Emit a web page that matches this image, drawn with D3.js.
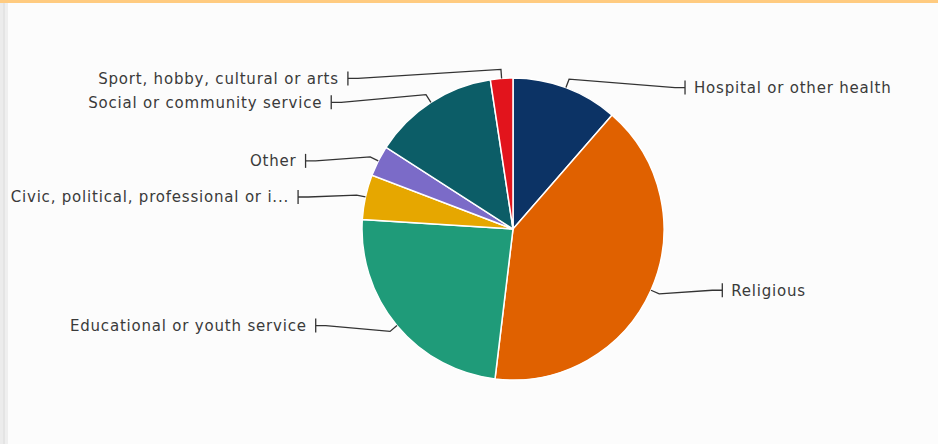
<!DOCTYPE html>
<html>
<head>
<meta charset="utf-8">
<script src="https://cdn.jsdelivr.net/npm/d3@7"></script>
<style>
  html, body { margin: 0; padding: 0; background: #fcfcfc; }
  svg { display: block; }
</style>
</head>
<body>
<svg id="chart" width="938" height="444"></svg>
<script>
"use strict";

// slices, clockwise from 12 o'clock
const categories = [
    'Hospital or other health',
    'Religious',
    'Educational or youth service',
    'Civic, political, professional or i...',
    'Other',
    'Social or community service',
    'Sport, hobby, cultural or arts'
];
const values = [11.4, 40.5, 24.1, 4.8, 3.3, 13.5, 2.4];
const colors = ['#0c3365', '#e06100', '#1f9b79', '#e6a700', '#7b6bc8', '#0c5d67', '#e2141c'];

const width = 938;
const height = 444;
const cx = 513;
const cy = 229;
const radius = 151;

const svg = d3.select('#chart');

// page chrome: orange strip on top, grey edge on the left
svg.append('rect').attr('width', width).attr('height', height).attr('fill', '#fcfcfc');
svg.append('rect').attr('width', width).attr('height', 3).attr('fill', '#ffcb80');
[['#ececec', 0, 3], ['#e4e4e4', 3, 2], ['#efefef', 5, 3]].forEach(function (s) {
    svg.append('rect').attr('x', s[1]).attr('y', 3).attr('width', s[2]).attr('height', height - 3).attr('fill', s[0]);
});

const data = categories.map(function (c, i) {
    return { label: c, value: values[i], color: colors[i] };
});

const pie = d3.pie().sort(null).value(function (d) { return d.value; });
const arc = d3.arc().innerRadius(0).outerRadius(radius);
const arcs = pie(data);

const g = svg.append('g').attr('transform', 'translate(' + cx + ',' + cy + ')');

g.selectAll('.slice')
    .data(arcs)
    .enter()
    .append('path')
    .classed('slice', true)
    .attr('d', arc)
    .attr('fill', function (d) { return d.data.color; })
    .attr('stroke', '#ffffff')
    .attr('stroke-width', 1.5);

// label layout: anchor on the rim, short radial elbow, label on an ellipse
const elbowR = radius + 9;
const ellipseX = 217;
const ellipseY = 232;
const minGap = 18;

const labels = arcs.map(function (d) {
    const a = (d.startAngle + d.endAngle) / 2;
    return {
        d: d,
        side: Math.sin(a) >= 0 ? 1 : -1,
        p0: [radius * Math.sin(a), -radius * Math.cos(a)],
        p1: [elbowR * Math.sin(a), -elbowR * Math.cos(a)],
        y: -radius * Math.cos(a)
    };
});

// keep labels on the same side from overlapping
[1, -1].forEach(function (side) {
    const list = labels.filter(function (l) { return l.side === side; })
        .sort(function (a, b) { return a.y - b.y; });
    for (let i = 1; i < list.length; i++) {
        if (list[i].y - list[i - 1].y < minGap) {
            list[i].y = list[i - 1].y + minGap;
        }
    }
});

labels.forEach(function (l) {
    const k = Math.max(0, 1 - (l.y / ellipseY) * (l.y / ellipseY));
    l.x = l.side * ellipseX * Math.sqrt(k);
});

const line = d3.line();

const lab = g.selectAll('.label')
    .data(labels)
    .enter()
    .append('g')
    .classed('label', true);

lab.append('path')
    .attr('d', function (l) {
        return line([l.p0, l.p1, [l.x - l.side * 10, l.y], [l.x, l.y]]);
    })
    .attr('fill', 'none')
    .attr('stroke', '#333333')
    .attr('stroke-width', 1.3);

lab.append('line')
    .attr('x1', function (l) { return l.x; })
    .attr('x2', function (l) { return l.x; })
    .attr('y1', function (l) { return l.y - 7; })
    .attr('y2', function (l) { return l.y + 7; })
    .attr('stroke', '#333333')
    .attr('stroke-width', 1.3);

lab.append('text')
    .attr('x', function (l) { return l.x + l.side * 9; })
    .attr('y', function (l) { return l.y; })
    .attr('dy', '0.36em')
    .attr('text-anchor', function (l) { return l.side > 0 ? 'start' : 'end'; })
    .attr('font-family', '"DejaVu Sans", Verdana, sans-serif')
    .attr('font-size', 15)
    .attr('letter-spacing', 0.8)
    .attr('fill', '#3a3a3a')
    .text(function (l) { return l.d.data.label; });
</script>
</body>
</html>
